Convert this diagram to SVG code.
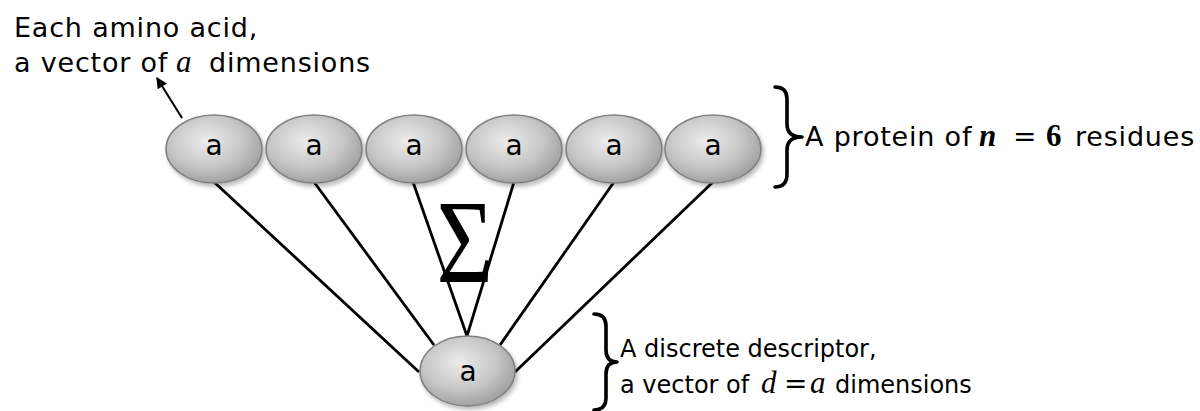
<svg xmlns="http://www.w3.org/2000/svg" width="1200" height="411" viewBox="0 0 1200 411">
  <defs>
    <radialGradient id="ballFill" cx="42%" cy="38%" r="70%">
      <stop offset="0" stop-color="#ececec"/>
      <stop offset="0.55" stop-color="#c6c6c6"/>
      <stop offset="1" stop-color="#969696"/>
    </radialGradient>
    <filter id="shade" x="-20%" y="-20%" width="150%" height="160%">
      <feDropShadow dx="2" dy="3" stdDeviation="2" flood-color="#000" flood-opacity="0.28"/>
    </filter>
    <marker id="arrowHead" viewBox="0 0 10 10" refX="9" refY="5" markerWidth="12" markerHeight="11" orient="auto" markerUnits="userSpaceOnUse">
      <path d="M0,0 L10,5 L0,10 z" fill="#000"/>
    </marker>
    <style>
      .ball { fill: url(#ballFill); stroke: #808080; stroke-width: 1.5; filter: url(#shade); }
      .ballLabel { font-family: "DejaVu Sans", Verdana, sans-serif; font-size: 28px; fill: #000; text-anchor: middle; }
      .edge { stroke: #000; stroke-width: 2.8; fill: none; }
      .note { font-family: "DejaVu Sans", Verdana, sans-serif; font-size: 27px; fill: #000; letter-spacing: 0.8px; }
      .noteSmall { font-family: "DejaVu Sans", Verdana, sans-serif; font-size: 24px; fill: #000; }
      .math { font-family: "Liberation Serif", "Times New Roman", serif; font-style: italic; font-size: 31px; fill: #000; }
      .mathBold { font-family: "Liberation Serif", "Times New Roman", serif; font-weight: bold; font-size: 31px; fill: #000; }
      .eq { font-family: "DejaVu Sans", sans-serif; font-size: 28px; fill: #000; }
      .brace { stroke: #000; stroke-width: 3.6; fill: none; stroke-linecap: round; stroke-linejoin: round; }
    </style>
  </defs>

  <!-- connectors from each residue to the descriptor -->
  <g id="connectors">
    <line class="edge" x1="214" y1="182" x2="419" y2="372"/>
    <line class="edge" x1="314" y1="182" x2="434" y2="345"/>
    <line class="edge" x1="413" y1="182" x2="467" y2="336"/>
    <line class="edge" x1="514" y1="182" x2="467" y2="336"/>
    <line class="edge" x1="614" y1="182" x2="500" y2="345"/>
    <line class="edge" x1="713" y1="182" x2="515" y2="372"/>
    <line stroke="#000" stroke-width="2" x1="182" y1="118" x2="157" y2="78" marker-end="url(#arrowHead)"/>
  </g>

  <!-- summation sign -->
  <text x="0" y="0" transform="translate(465,282) scale(0.83,1)" text-anchor="middle" font-family="Liberation Serif, Times New Roman, serif" font-size="118">Σ</text>

  <!-- residues -->
  <g id="residue1"><ellipse class="ball" cx="214" cy="149" rx="48" ry="34"/><text class="ballLabel" x="214" y="155">a</text></g>
  <g id="residue2"><ellipse class="ball" cx="314" cy="149" rx="48" ry="34"/><text class="ballLabel" x="314" y="155">a</text></g>
  <g id="residue3"><ellipse class="ball" cx="414" cy="149" rx="48" ry="34"/><text class="ballLabel" x="414" y="155">a</text></g>
  <g id="residue4"><ellipse class="ball" cx="514" cy="149" rx="48" ry="34"/><text class="ballLabel" x="514" y="155">a</text></g>
  <g id="residue5"><ellipse class="ball" cx="614" cy="149" rx="48" ry="34"/><text class="ballLabel" x="614" y="155">a</text></g>
  <g id="residue6"><ellipse class="ball" cx="713" cy="149" rx="48" ry="34"/><text class="ballLabel" x="713" y="155">a</text></g>

  <!-- descriptor -->
  <g id="descriptor"><ellipse class="ball" cx="467.5" cy="371" rx="47.5" ry="35"/><text class="ballLabel" x="468" y="381">a</text></g>

  <!-- amino acid note -->
  <g id="aminoNote">
    <text class="note" x="14" y="37">Each amino acid,</text>
    <text class="note" x="14" y="72">a vector of</text>
    <text class="math" x="176" y="72">a</text>
    <text class="note" x="209" y="72">dimensions</text>
  </g>

  <!-- protein brace and note -->
  <g id="proteinNote">
    <path class="brace" d="M775,87 Q787,87 787,99 L787,124 Q787,137 802,137 Q787,137 787,150 L787,174 Q787,187 775,187"/>
    <text class="note" x="805" y="146">A protein of</text>
    <text class="mathBold" x="979" y="146" font-style="italic" font-size="33">n</text>
    <text class="eq" x="1013" y="146">=</text>
    <text class="mathBold" x="1046" y="146">6</text>
    <text class="note" x="1075" y="146">residues</text>
  </g>

  <!-- descriptor brace and note -->
  <g id="descriptorNote">
    <path class="brace" d="M594,314 Q606,314 606,326 L606,350 Q606,362 617,362 Q606,362 606,374 L606,398 Q606,410 594,410"/>
    <text class="noteSmall" x="620" y="357">A discrete descriptor,</text>
    <text class="noteSmall" x="620" y="393">a vector of</text>
    <text class="math" x="761" y="393">d</text>
    <text class="eq" x="784" y="393">=</text>
    <text class="math" x="810" y="393">a</text>
    <text class="noteSmall" x="835" y="393">dimensions</text>
  </g>
</svg>
